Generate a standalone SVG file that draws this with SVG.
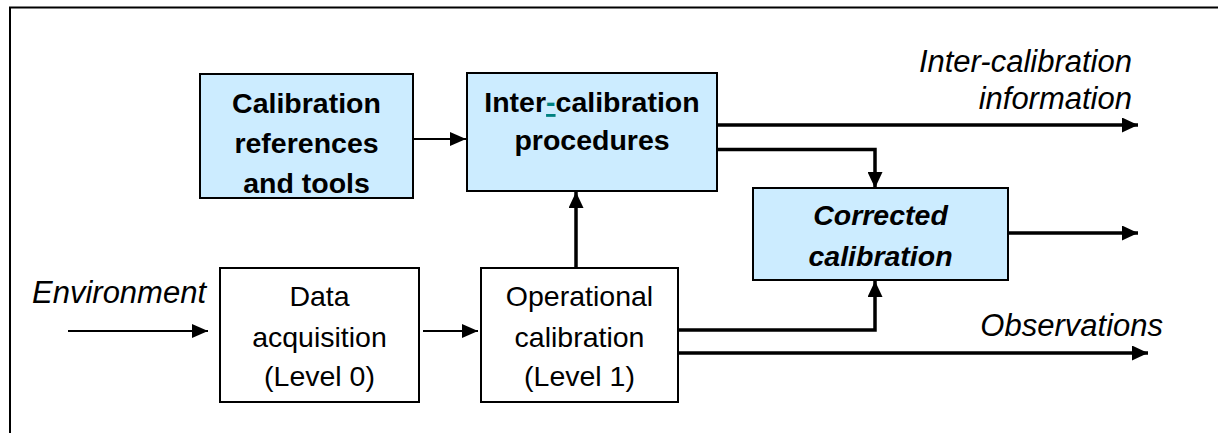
<svg xmlns="http://www.w3.org/2000/svg" width="1218" height="433" viewBox="0 0 1218 433">
<defs>
<style>
.box{fill:#CCECFF;stroke:#000;stroke-width:2}
.wbox{fill:#fff;stroke:#000;stroke-width:2}
.t{font-family:"Liberation Sans",Arial,sans-serif;font-size:28.5px;fill:#000;text-anchor:middle}
.b{font-weight:bold}
.i{font-style:italic}
.lab{font-family:"Liberation Sans",Arial,sans-serif;font-size:31px;font-style:italic;fill:#000}
.thin{fill:none;stroke:#000;stroke-width:2}
.thick{fill:none;stroke:#000;stroke-width:3.5}
</style>
<marker id="ah" markerUnits="userSpaceOnUse" viewBox="0 0 16 14" refX="16" refY="7" markerWidth="16" markerHeight="14" orient="auto">
<path d="M0,0 L16,7 L0,14 Z" fill="#000"/>
</marker>
<marker id="ahb" markerUnits="userSpaceOnUse" viewBox="0 0 16 15" refX="16" refY="7.5" markerWidth="16" markerHeight="15" orient="auto">
<path d="M0,0 L16,7.5 L0,15 Z" fill="#000"/>
</marker>
</defs>
<rect width="1218" height="433" fill="#fff"/>
<path d="M10,433 V7.5 H1218" fill="none" stroke="#000" stroke-width="2"/>

<g id="connectors">
<path class="thin" d="M68,331 H208" marker-end="url(#ah)"/>
<path class="thin" d="M423,331 H478" marker-end="url(#ah)"/>
<path class="thin" d="M413,139 H466" marker-end="url(#ah)"/>
<path class="thick" d="M576,267 V192" marker-end="url(#ahb)"/>
<path class="thick" d="M717,125 H1138" marker-end="url(#ahb)"/>
<path class="thick" d="M717,149.5 H875 V188" marker-end="url(#ahb)"/>
<path class="thick" d="M678,330 H875 V281" marker-end="url(#ahb)"/>
<path class="thick" d="M678,353 H1148" marker-end="url(#ahb)"/>
<path class="thick" d="M1008,233 H1138" marker-end="url(#ahb)"/>
</g>

<g id="calib-refs">
<rect class="box" x="200" y="74" width="213" height="124"/>
<text class="t b" x="306.5" y="113">Calibration</text>
<text class="t b" x="306.5" y="153">references</text>
<text class="t b" x="306.5" y="193">and tools</text>
</g>

<g id="inter-cal">
<rect class="box" x="467" y="73" width="250" height="118"/>
<text class="t b" x="592" y="112">Inter<tspan fill="#008080" text-decoration="underline">-</tspan>calibration</text>
<text class="t b" x="592" y="150">procedures</text>
</g>

<g id="corrected">
<rect class="box" x="753" y="188" width="255" height="92"/>
<text class="t b i" x="880.5" y="225">Corrected</text>
<text class="t b i" x="880.5" y="266">calibration</text>
</g>

<g id="data-acq">
<rect class="wbox" x="220" y="268" width="199" height="134"/>
<text class="t" x="319.5" y="306">Data</text>
<text class="t" x="319.5" y="347">acquisition</text>
<text class="t" x="319.5" y="386">(Level 0)</text>
</g>

<g id="op-cal">
<rect class="wbox" x="481" y="268" width="197" height="134"/>
<text class="t" x="579.5" y="306">Operational</text>
<text class="t" x="579.5" y="347">calibration</text>
<text class="t" x="579.5" y="386">(Level 1)</text>
</g>

<g id="labels">
<text class="lab" x="32" y="303">Environment</text>
<text class="lab" x="1163" y="336" text-anchor="end">Observations</text>
<text class="lab" x="1132" y="72" text-anchor="end">Inter-calibration</text>
<text class="lab" x="1132" y="109" text-anchor="end">information</text>
</g>
</svg>
